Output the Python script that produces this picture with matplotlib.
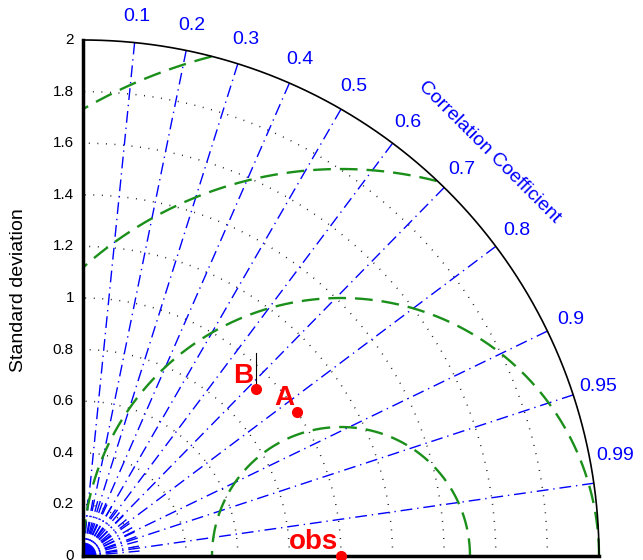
import numpy as np
import matplotlib
matplotlib.use("Agg")
import matplotlib.pyplot as plt

plt.rcParams['font.family'] = ['Liberation Sans', 'DejaVu Sans']

# reference and model statistics
obs_std = 1.0
names = ['A', 'B']
model_std = [1.0, 0.93]
model_corr = [0.83, 0.72]

std_ticks = [0, 0.2, 0.4, 0.6, 0.8, 1, 1.2, 1.4, 1.6, 1.8, 2]
std_max = 2.0
corr_ticks = [0.1, 0.2, 0.3, 0.4, 0.5, 0.6, 0.7, 0.8, 0.9, 0.95, 0.99]
rms_levels = [0.5, 1.0, 1.5, 2.0]

blue = (0.0, 0.0, 1.0)
green = (0.1, 0.56, 0.1)
red = (1.0, 0.0, 0.0)

fig = plt.figure(figsize=(6.43, 5.6), dpi=100)
ax = fig.add_axes([0, 0, 1, 1])
ax.set_xlim(-83 / 258, 560 / 258)
ax.set_ylim(-4 / 258, 556 / 258)
ax.set_aspect('equal')
ax.axis('off')

th = np.linspace(0, np.pi / 2, 400)

# std arcs (dotted)
for r in std_ticks[1:-1]:
    ax.plot(r * np.cos(th), r * np.sin(th), color='0.1', lw=1.1,
            dashes=(0.6, 5.0), zorder=1)

# correlation rays
for c in corr_ticks:
    a = np.arccos(c)
    ax.plot([0, std_max * np.cos(a)], [0, std_max * np.sin(a)], color=blue,
            lw=1.0, dashes=(8.5, 3.5, 1, 3.5), zorder=2)
# short rays near the origin
for a in np.radians(np.arange(5, 90, 5)):
    ax.plot([0, 0.22 * np.cos(a)], [0, 0.22 * np.sin(a)], color=blue,
            lw=1.0, dashes=(8.5, 3.5, 1, 3.5), zorder=2)
for a in np.radians(np.arange(0, 91, 3)):
    ax.plot([0, 0.05 * np.cos(a)], [0, 0.05 * np.sin(a)], color=blue,
            lw=0.8, zorder=2)

# centred RMS difference circles around obs
phi = np.linspace(0, np.pi, 800)
for r in rms_levels:
    x = obs_std + r * np.cos(phi)
    y = r * np.sin(phi)
    keep = (x >= 0) & (np.hypot(x, y) <= std_max)
    x = np.where(keep, x, np.nan)
    y = np.where(keep, y, np.nan)
    ax.plot(x, y, color=green, lw=1.7, dashes=(7.5, 3.8), zorder=3)

# frame
ax.plot(std_max * np.cos(th), std_max * np.sin(th), color='k', lw=1.2, zorder=4)
ax.plot([0, 0], [0, std_max], color='k', lw=2.5, zorder=4)
ax.plot([0, std_max], [0, 0], color='k', lw=2.5, zorder=4)

for t in std_ticks:
    ax.text(-0.035, t, f'{t:g}', ha='right', va='center', fontsize=11)
ax.text(-0.25, 1.03, 'Standard deviation', rotation=90, ha='center',
        va='center', fontsize=14)

lab_ang = np.arccos(corr_ticks)
lab_ang[-1] += np.radians(2.6)
for c, a in zip(corr_ticks, lab_ang):
    ax.text(2.1 * np.cos(a), 2.1 * np.sin(a), f'{c:g}', ha='center',
            va='center', fontsize=14, color=blue)
ax.text(2.22 * np.cos(np.radians(44.8)), 2.22 * np.sin(np.radians(44.8)),
        'Correlation Coefficient', rotation=-45, ha='center', va='center',
        fontsize=14, color=blue)

# points
xs = [obs_std] + [s * c for s, c in zip(model_std, model_corr)]
ys = [0.0] + [s * np.sqrt(1 - c ** 2) for s, c in zip(model_std, model_corr)]
for x, y, name in zip(xs, ys, ['obs'] + names):
    ax.plot(x, y, 'o', color=red, ms=7, zorder=6, clip_on=False)
    ax.annotate(name, (x, y), xytext=(-2, 5), textcoords='offset points',
                ha='right', va='baseline', fontsize=20, fontweight='bold',
                color=red, zorder=7)
# marker stem on B
ax.plot([xs[2], xs[2]], [ys[2], ys[2] + 0.14], color='k', lw=0.8, zorder=5)

fig.savefig('out.png', dpi=100)
